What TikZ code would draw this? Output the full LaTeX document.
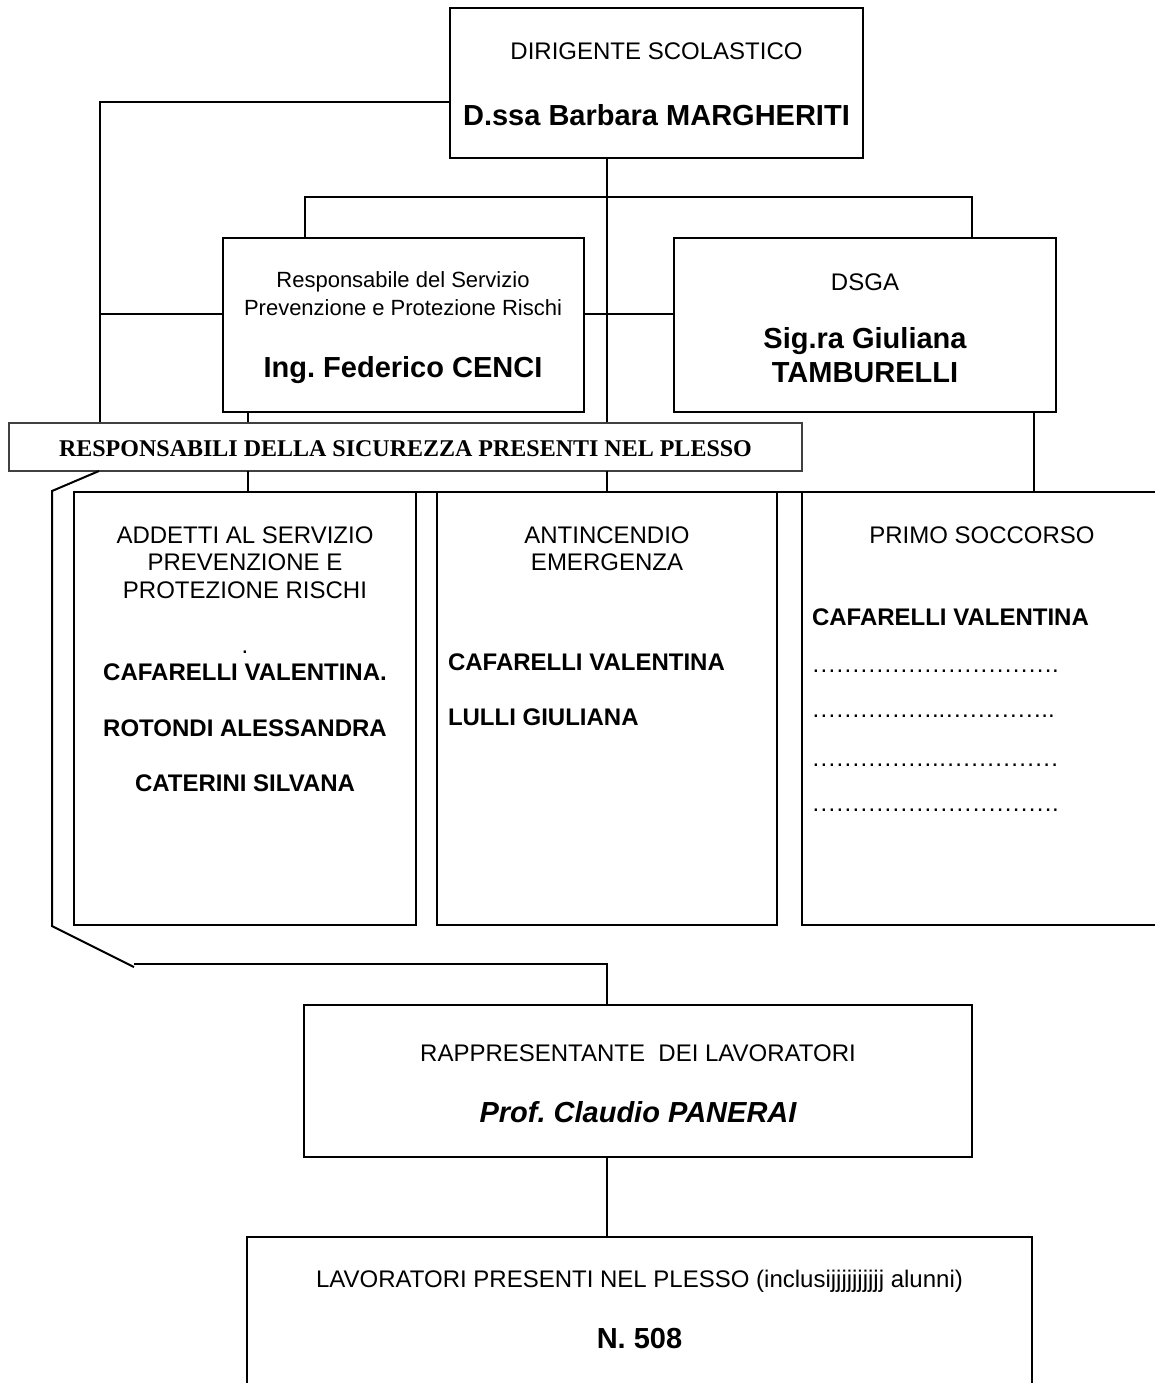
\documentclass[tikz,border=0pt]{standalone}
\usepackage{fontspec}
\setmainfont{Liberation Sans}
\newfontfamily\tnr{Liberation Serif}
\frenchspacing
\tikzset{
  boxn/.style={draw, line width=1pt, inner sep=0pt, outer sep=0pt},
  conn/.style={line width=1pt},
  txt/.style={inner sep=0pt, outer sep=0pt, anchor=base, font=\fontsize{12}{14}\selectfont},
  txtl/.style={txt, anchor=base west},
  txts/.style={txt, font=\fontsize{11}{13}\selectfont},
  bname/.style={txt, font=\fontsize{14.5}{17}\selectfont\bfseries},
  bsmall/.style={txt, font=\fontsize{12}{14}\selectfont\bfseries},
  bsmalll/.style={bsmall, anchor=base west},
  dotsl/.style={txtl},
  banner/.style={boxn, draw=black!75, fill=white},
}
% box from (x1,y1) to (x2,y2) in pixel units
\newcommand\pbox[6][]{\node[boxn,#1,minimum width={(#5-#3)*0.5pt},minimum height={(#6-#4)*0.5pt}] (#2) at ({(#3+#5)/2},{(#4+#6)/2}) {};}
\newcommand\pd{\makebox[4pt][c]{.}}
\newcommand\el{\pd\pd\pd}
\begin{document}
\begin{tikzpicture}[x=0.5pt,y=-0.5pt]
\useasboundingbox (0,0) rectangle (1155,1383);
\clip (0,0) rectangle (1155,1383);
\fill[white] (0,0) rectangle (1155,1383);

% boxes
\pbox{dir}{450}{8}{863}{158}
\pbox{rspp}{222.5}{238}{584}{412}
\pbox{dsga}{674}{238}{1056}{412}
\pbox{boxa}{74}{492}{416}{925}
\pbox{boxb}{437}{492}{777}{925}
\pbox{boxc}{802}{492}{1162}{925}
\pbox{rapp}{304}{1005}{972}{1157}
\pbox{lav}{247}{1237}{1032}{1400}

% connectors
\draw[conn] (dir.west |- 0,102) -- (99.5,102) -- (99.5,423);
\draw[conn] (606.5,0 |- dir.south) -- (606.5,423);
\draw[conn] (305,0 |- rspp.north) -- (305,197) -- (972,197) -- (972,0 |- dsga.north);
\draw[conn] (99.5,314) -- (rspp.west |- 0,314);
\draw[conn] (rspp.east |- 0,314) -- (dsga.west |- 0,314);
\draw[conn] (248,0 |- rspp.south) -- (248,423);
\draw[conn] (1034,0 |- dsga.south) -- (1034,0 |- boxc.north);
\draw[boxn] (boxa.north west) -- (boxc.north east);

% banner
\pbox[banner]{ban}{9}{423}{802}{471}
\node[txt, font=\tnr\fontsize{12}{14}\selectfont\bfseries] (tban) at (405.5,456) {RESPONSABILI DELLA SICUREZZA PRESENTI NEL PLESSO};

\draw[conn] (248,0 |- ban.south) -- (248,0 |- boxa.north);
\draw[conn] (606.5,0 |- ban.south) -- (606.5,0 |- boxb.north);

% left bracket
\draw[conn] (99,0 |- ban.south) -- (52,491) -- (52,926) -- (134,967);
\draw[conn] (134,964) -- (606.5,964) -- (606.5,0 |- rapp.north);
\draw[conn] (606.5,0 |- rapp.south) -- (606.5,0 |- lav.north);

% texts: top
\node[txt] (t1) at (656.5,59.3) {DIRIGENTE SCOLASTICO};
\node[bname] (t2) at (656.5,125) {D.ssa Barbara MARGHERITI};
% RSPP
\node[txts] (t3) at (403,287.5) {Responsabile del Servizio};
\node[txts] (t4) at (403,315) {Prevenzione e Protezione Rischi};
\node[bname] (t5) at (403,377) {Ing. Federico CENCI};
% DSGA
\node[txt] (t6) at (865,290) {DSGA};
\node[bname] (t7) at (865,348) {Sig.ra Giuliana};
\node[bname] (t8) at (865,382) {TAMBURELLI};
% box A
\node[txt] (a1) at (245,543.3) {ADDETTI AL SERVIZIO};
\node[txt] (a2) at (245,570.7) {PREVENZIONE E};
\node[txt] (a3) at (245,598) {PROTEZIONE RISCHI};
\node[txt] (a4) at (245,653) {.};
\node[bsmall] (a5) at (245,680) {CAFARELLI VALENTINA.};
\node[bsmall] (a6) at (245,736) {ROTONDI ALESSANDRA};
\node[bsmall] (a7) at (245,791) {CATERINI SILVANA};
% box B
\node[txt] (b1) at (607,543.3) {ANTINCENDIO};
\node[txt] (b2) at (607,570.7) {EMERGENZA};
\node[bsmalll] (b3) at (448,670) {CAFARELLI VALENTINA};
\node[bsmalll] (b4) at (448,725.5) {LULLI GIULIANA};
% box C
\node[txt] (c1) at (982,543.3) {PRIMO SOCCORSO};
\node[bsmalll] (c2) at (812,625) {CAFARELLI VALENTINA};
\node[dotsl] (c3) at (812,672) {\el\el\el\el\el\el\el\el\el\el.};
\node[dotsl] (c4) at (812,717) {\el\el\el\el\el..\el\el\el\el..};
\node[dotsl] (c5) at (812,766) {\el\el\el\el\el.\el\el\el\el\el};
\node[dotsl] (c6) at (812,811) {\el\el\el\el\el\el\el\el\el\el.};
% RAPP
\node[txt] (r1) at (638,1061.7) {RAPPRESENTANTE\ \ DEI LAVORATORI};
\node[bname, font=\fontsize{14.5}{17}\selectfont\bfseries\itshape] (r2) at (638,1122.3) {Prof. Claudio PANERAI};
% LAV
\node[txt] (l1) at (639.5,1287.7) {LAVORATORI PRESENTI NEL PLESSO (inclusijjjjjjjjjj alunni)};
\node[bname] (l2) at (639.5,1348.3) {N. 508};
\end{tikzpicture}
\end{document}
